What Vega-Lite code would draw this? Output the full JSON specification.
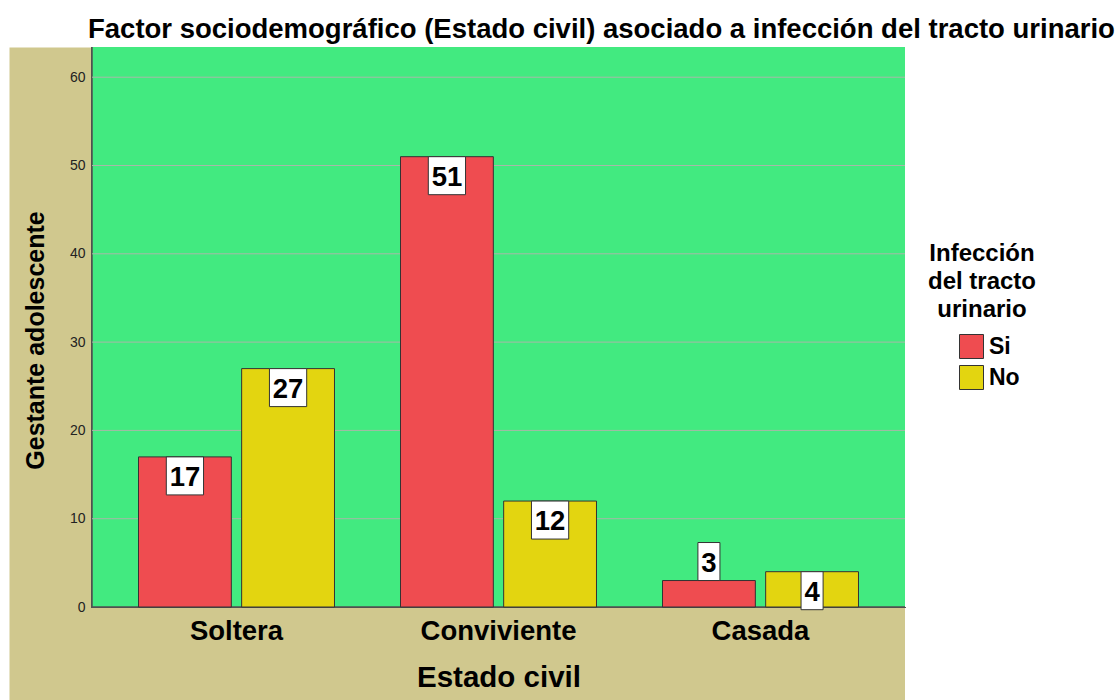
{
  "$schema": "https://vega.github.io/schema/vega-lite/v6.json",
  "autosize": "none",
  "width": 813,
  "height": 653,
  "padding": {"left": 92, "top": 47, "right": 215, "bottom": 0},
  "background": "white",
  "view": {"fill": "#D0C88E", "stroke": null},
  "config": {"font": "Liberation Sans"},
  "title": {
    "text": "Factor sociodemográfico (Estado civil) asociado a infección del tracto urinario",
    "anchor": "start",
    "frame": "group",
    "dx": -4,
    "offset": 3,
    "font": "Liberation Sans",
    "fontSize": 27.5,
    "fontWeight": "bold",
    "color": "black"
  },
  "data": {
    "values": [
      {"estado": "Soltera", "itu": "Si", "n": 17},
      {"estado": "Soltera", "itu": "No", "n": 27},
      {"estado": "Conviviente", "itu": "Si", "n": 51},
      {"estado": "Conviviente", "itu": "No", "n": 12},
      {"estado": "Casada", "itu": "Si", "n": 3},
      {"estado": "Casada", "itu": "No", "n": 4}
    ]
  },
  "resolve": {"axis": {"y": "independent"}},
  "layer": [
    {
      "mark": {"type": "rect", "fill": "#42EA80", "stroke": "#505050", "strokeWidth": 1.5, "strokeDash": [0, 1373, 1373, 0]},
      "encoding": {
        "y": {"datum": 0, "type": "quantitative",
          "scale": {"domain": [-10.53, 63.42], "nice": false, "zero": false},
          "axis": {
            "orient": "left",
            "offset": 41.5,
            "labels": false,
            "ticks": false,
            "grid": false,
            "title": null,
            "domainColor": "#D0C88E",
            "domainWidth": 83,
            "domainCap": "butt",
            "zindex": 0
          }
        },
        "y2": {"datum": 63.42}
      }
    },
    {
      "data": {"values": [{"g": 10}, {"g": 20}, {"g": 30}, {"g": 40}, {"g": 50}, {"g": 60}]},
      "mark": {"type": "rule", "stroke": "#A8B8A8", "strokeWidth": 1},
      "encoding": {"y": {"field": "g", "type": "quantitative", "axis": null}}
    },
    {
      "mark": {"type": "bar", "stroke": "#333333", "strokeWidth": 1},
      "encoding": {
        "x": {
          "field": "estado", "type": "nominal",
          "sort": ["Soltera", "Conviviente", "Casada"],
          "scale": {"paddingInner": 0.252, "paddingOuter": 0.1775},
          "axis": {
            "title": "Estado civil",
            "offset": -93,
            "labelAngle": 0,
            "labelFont": "Liberation Sans",
            "labelFontSize": 27.5,
            "labelFontWeight": "bold",
            "labelColor": "black",
            "labelPadding": 10,
            "ticks": false,
            "domain": false,
            "titleFont": "Liberation Sans",
            "titleFontSize": 29.5,
            "titleFontWeight": "bold",
            "titleColor": "black",
            "titleBaseline": "alphabetic",
            "titleY": 79
          }
        },
        "xOffset": {
          "field": "itu", "type": "nominal", "sort": ["Si", "No"],
          "scale": {"paddingInner": 0.1, "paddingOuter": 0}
        },
        "y": {"field": "n", "type": "quantitative",
          "axis": {
            "orient": "left",
            "values": [0, 10, 20, 30, 40, 50, 60],
            "title": "Gestante adolescente",
            "titleFont": "Liberation Sans",
            "titleFontSize": 25,
            "titleFontWeight": "bold",
            "titleColor": "black",
            "titleBaseline": "alphabetic",
            "titleY": 293,
            "titleX": -49,
            "labelFont": "Liberation Sans",
            "labelFontSize": 14,
            "labelColor": "#222222",
            "labelPadding": 7,
            "ticks": false,
            "grid": false,
            "domain": false,
            "zindex": 1
          }
        },
        "y2": {"datum": 0},
        "fill": {
          "field": "itu", "type": "nominal", "sort": ["Si", "No"],
          "scale": {"domain": ["Si", "No"], "range": ["#EF4C50", "#E3D510"]},
          "legend": {
            "title": ["Infección", "del tracto", "urinario"],
            "orient": "none",
            "legendX": 836,
            "legendY": 195,
            "titleFont": "Liberation Sans",
            "titleFontSize": 24,
            "titleFontWeight": "bold",
            "titleColor": "black",
            "titleLineHeight": 28,
            "titleAlign": "center",
            "titleAnchor": "middle",
            "titlePadding": 12,
            "symbolType": "square",
            "symbolSize": 576,
            "symbolStrokeColor": "#333333",
            "symbolStrokeWidth": 1,
            "symbolOffset": 14,
            "labelFont": "Liberation Sans",
            "labelFontSize": 23,
            "labelFontWeight": "bold",
            "labelColor": "black",
            "labelOffset": 5,
            "rowPadding": 2
          }
        }
      }
    },
    {
      "transform": [{"filter": "datum.n >= 10"}],
      "mark": {"type": "point", "shape": "M-0.49,0H0.49V1H-0.49Z", "size": 5776, "filled": true, "fill": "white", "stroke": "#333333", "strokeWidth": 1, "opacity": 1},
      "encoding": {
        "x": {"field": "estado", "type": "nominal", "sort": ["Soltera", "Conviviente", "Casada"]},
        "xOffset": {"field": "itu", "type": "nominal", "sort": ["Si", "No"]},
        "y": {"field": "n", "type": "quantitative", "axis": null}
      }
    },
    {
      "transform": [{"filter": "datum.n == 4"}],
      "mark": {"type": "point", "shape": "M-0.29,0H0.29V1H-0.29Z", "size": 5776, "filled": true, "fill": "white", "stroke": "#333333", "strokeWidth": 1, "opacity": 1},
      "encoding": {
        "x": {"field": "estado", "type": "nominal", "sort": ["Soltera", "Conviviente", "Casada"]},
        "xOffset": {"field": "itu", "type": "nominal", "sort": ["Si", "No"]},
        "y": {"field": "n", "type": "quantitative", "axis": null}
      }
    },
    {
      "transform": [{"filter": "datum.n == 3"}],
      "mark": {"type": "point", "shape": "M-0.29,-1H0.29V0H-0.29Z", "size": 5776, "filled": true, "fill": "white", "stroke": "#333333", "strokeWidth": 1, "opacity": 1},
      "encoding": {
        "x": {"field": "estado", "type": "nominal", "sort": ["Soltera", "Conviviente", "Casada"]},
        "xOffset": {"field": "itu", "type": "nominal", "sort": ["Si", "No"]},
        "y": {"field": "n", "type": "quantitative", "axis": null}
      }
    },
    {
      "transform": [{"filter": "datum.n != 3"}],
      "mark": {"type": "text", "font": "Liberation Sans", "fontSize": 27.5, "fontWeight": "bold", "color": "black", "baseline": "alphabetic", "dy": 29},
      "encoding": {
        "x": {"field": "estado", "type": "nominal", "sort": ["Soltera", "Conviviente", "Casada"]},
        "xOffset": {"field": "itu", "type": "nominal", "sort": ["Si", "No"]},
        "y": {"field": "n", "type": "quantitative", "axis": null},
        "text": {"field": "n", "type": "quantitative"}
      }
    },
    {
      "transform": [{"filter": "datum.n == 3"}],
      "mark": {"type": "text", "font": "Liberation Sans", "fontSize": 27.5, "fontWeight": "bold", "color": "black", "baseline": "alphabetic", "dy": -9},
      "encoding": {
        "x": {"field": "estado", "type": "nominal", "sort": ["Soltera", "Conviviente", "Casada"]},
        "xOffset": {"field": "itu", "type": "nominal", "sort": ["Si", "No"]},
        "y": {"field": "n", "type": "quantitative", "axis": null},
        "text": {"field": "n", "type": "quantitative"}
      }
    }
  ]
}
